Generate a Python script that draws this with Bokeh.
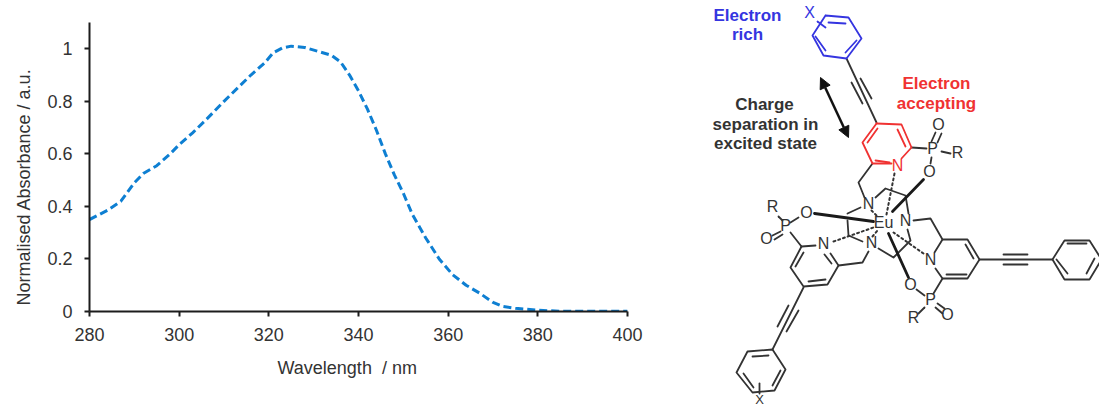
from bokeh.plotting import figure
from bokeh.layouts import row, column
from bokeh.models import FixedTicker, Title, Arrow, NormalHead
from bokeh.core.properties import value
from bokeh.embed import file_html
from bokeh.resources import INLINE

# ---- spectrum ----
wavelength = [280,284,287,290,292,295,298,300,303,306,310,313,316,319,321,323,325,328,331,334,336,338,340,342,344,346,348,350,352,355,358,361,364,367,370,372,375,380,385,400]
absorbance = [0.35,0.385,0.42,0.49,0.525,0.555,0.60,0.635,0.68,0.73,0.80,0.85,0.90,0.945,0.985,1.003,1.01,1.005,0.99,0.975,0.95,0.90,0.84,0.77,0.69,0.60,0.52,0.45,0.37,0.28,0.20,0.14,0.10,0.07,0.035,0.02,0.012,0.005,0.001,0.001]
x_ticks = [280,300,320,340,360,380,400]
y_ticks = [0,0.2,0.4,0.6,0.8,1]
y_labels = {0:"0",0.2:"0.2",0.4:"0.4",0.6:"0.6",0.8:"0.8",1:"1"}
x_title = "Wavelength \u00a0/ nm"
y_title = "Normalised Absorbance / a.u."

# ---- structure diagram (page pixel space of the drawing) ----
blue_bonds = [
    [(825,15),(848,17),(861,38),(846,58),(823,55),(812,35),(825,15)],
    [(828,22),(845,23)],[(856,40),(845,52)],[(815,36),(825,50)],
    [(817,21),(825,27)],
]
red_bonds = [
    [(876,123),(901,124),(911,147),(901,158)],[(891,163),(872,163),(862,142),(876,123)],
    [(877,128),(867,142)],[(897,129),(905,146)],[(875,160),(889,162)],
]
black_bonds = [
    [(846,58),(876,122)],[(851,82),(862,103)],[(860,78),(871,98)],
    [(911,147),(926,148)],[(931,141),(935,132)],[(937,142),(941,133)],[(941,151),(950,153)],[(931,157),(930,163)],
    [(872,163),(858,182),(864,197)],
    [(860,207),(847,213)],[(847,220),(848,235),(862,241)],
    [(875,197),(885,188),(905,195),(908,213)],
    [(878,248),(893,257),(910,240),(907,229)],
    [(778,216),(782,220)],[(790,222),(798,217)],[(772,235),(780,231)],[(774,239),(782,234)],[(790,232),(801,246)],
    [(801,246),(815,245)],[(801,246),(790,267),(803,286),(827,284),(838,265),(830,253)],
    [(795,266),(803,252)],[(831,263),(824,254)],[(808,281),(825,279)],
    [(838,265),(862,262),(868,251)],
    [(913,220),(930,218),(942,239),(967,239),(979,259),(967,278),(942,278),(935,268)],
    [(942,239),(934,252)],[(965,244),(973,258)],[(946,274),(966,274)],
    [(979,259),(1052,259)],[(1003,254),(1027,254)],[(1003,264),(1027,264)],
    [(1052,259),(1064,240),(1089,240),(1101,259),(1089,279),(1064,279),(1052,259)],
    [(1067,243),(1086,243)],[(1094,258),(1086,273)],[(1056,259),(1067,273)],
    [(942,278),(933,293)],[(924,295),(916,289)],[(937,303),(944,308)],[(935,307),(942,313)],[(924,307),(918,313)],
    [(803,287),(772,349)],[(788,305),(777,326)],[(798,310),(786,331)],
    [(772,349),(747,351),(736,372),(752,392),(774,390),(785,369),(772,349)],
    [(752,356),(768,355)],[(743,373),(753,387)],[(780,370),(772,385)],
    [(759,383),(759,393)],
]
bold_bonds = [[(923,179),(892,211)],[(814,213),(873,221)],[(888,233),(908,277)]]
dashed_bonds = [[(894,173),(886,214)],[(833,241),(873,227)],[(923,253),(893,232)],[(871,210),(877,216)],[(872,236),(877,230)]]
arrow_ends = [(820,77),(848,137)]

atoms_black = [("O",938,124),("P",932,148),("R",957,152),("O",929,171),("N",868,203),("N",871,242),("N",905,220),("Eu",883,222),
               ("R",772,206),("O",806,212),("P",785,225),("O",766,238),("N",823,243),("N",930,259),
               ("O",910,284),("P",930,299),("O",947,314),("R",913,317)]
atom_x_lower = ("X",759,399)
atom_red = ("N",897,165)
atom_blue = ("X",809,12)
captions = [("Electron",747,15,"#3535e0"),("rich",747,34,"#3535e0"),
            ("Electron",936,83,"#f03232"),("accepting",936,103,"#f03232"),
            ("Charge",764,104,"#333333"),("separation in",765,124,"#333333"),("excited state",765,143,"#333333")]

FONT = "Liberation Sans"

# ---- left panel ----
W1, H = 648, 408
p = figure(width=W1, height=H, x_range=(280,400), y_range=(0,1.1), output_backend="svg", toolbar_location=None,
           min_border_left=89, min_border_right=21, min_border_top=22, min_border_bottom=97)
p.outline_line_color = None
p.grid.visible = False
p.line(wavelength, absorbance, line_color="#0e7fd2", line_width=3, line_dash="8 4")
for ax, ticks in ((p.xaxis[0], x_ticks), (p.yaxis[0], y_ticks)):
    ax.ticker = FixedTicker(ticks=ticks)
    ax.axis_line_color = "#1c1c1c"
    ax.axis_line_width = 2
    ax.major_tick_line_color = "#1c1c1c"
    ax.major_tick_line_width = 2
    ax.major_tick_in = 0
    ax.major_tick_out = 5
    ax.minor_tick_line_color = None
    ax.major_label_text_font = FONT
    ax.major_label_text_font_size = "18px"
    ax.major_label_text_color = "#333333"
p.xaxis[0].major_label_standoff = 11
p.yaxis[0].major_label_standoff = 12
p.yaxis[0].major_label_overrides = y_labels
p.xaxis[0].major_label_overrides = {t: str(t) for t in x_ticks}
p.add_layout(Title(text=x_title, align="left", offset=188, standoff=24, text_font=FONT, text_font_size="18px",
                   text_font_style="normal", text_color="#333333"), "below")
p.add_layout(Title(text=y_title, align="left", offset=6, standoff=21, text_font=FONT, text_font_size="18px",
                   text_font_style="normal", text_color="#333333"), "left")

# ---- right panel ----
W2 = 1099 - W1
q = figure(width=W2, height=H, x_range=(W1, W1+W2), y_range=(H, 0), output_backend="svg", toolbar_location=None,
           min_border=0, x_axis_type=None, y_axis_type=None)
q.outline_line_color = None
q.grid.visible = False

def draw(paths, **kw):
    q.multi_line([[a for a, _ in s] for s in paths], [[b for _, b in s] for s in paths], line_cap="round", line_join="round", **kw)

draw(black_bonds, line_color="#333333", line_width=1.8)
draw(bold_bonds, line_color="#1a1a1a", line_width=2.8)
draw(dashed_bonds, line_color="#333333", line_width=2, line_dash="2 3")
draw(blue_bonds, line_color="#3535e0", line_width=1.8)
draw(red_bonds, line_color="#f03232", line_width=1.8)
q.add_layout(Arrow(end=NormalHead(size=11, fill_color="#111111", line_color="#111111"),
                   start=NormalHead(size=11, fill_color="#111111", line_color="#111111"),
                   x_start=arrow_ends[0][0], y_start=arrow_ends[0][1], x_end=arrow_ends[1][0], y_end=arrow_ends[1][1],
                   line_color="#111111", line_width=2.5))

def atoms(items, color, size="16px"):
    q.text([i[1] for i in items], [i[2] for i in items], text=[i[0] for i in items], text_font=value(FONT), text_font_size=size,
           text_color=color, text_align="center", text_baseline="middle")
atoms(atoms_black, "#333333")
atoms([atom_x_lower], "#333333", "13px")
atoms([atom_red], "#f03232")
atoms([atom_blue], "#3535e0")
q.text([c[1] for c in captions], [c[2] for c in captions], text=[c[0] for c in captions], text_font=value(FONT), text_font_size="17px",
       text_font_style="bold", text_color=[c[3] for c in captions], text_align="center", text_baseline="middle")

layout = row(column(p), column(q), spacing=0)
open("out.html", "w").write(file_html(layout, INLINE))
